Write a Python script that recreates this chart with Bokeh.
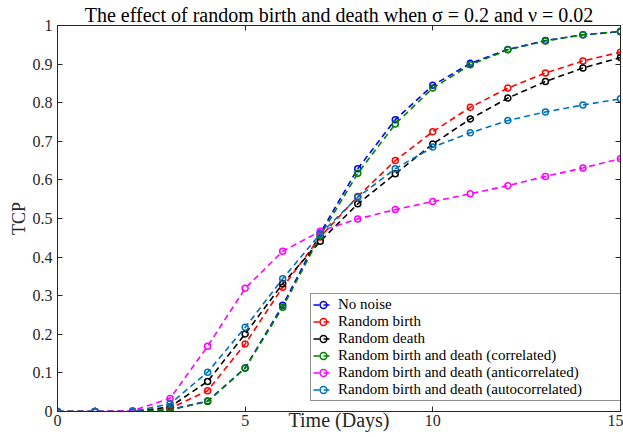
from bokeh.plotting import figure
from bokeh.models import Range1d, LinearAxis, FixedTicker, Legend, LegendItem
from bokeh.embed import file_html
from bokeh.resources import INLINE

days = list(range(16))
no_noise = [0, 0, 0, 0.005, 0.027, 0.113, 0.275, 0.462, 0.629, 0.756, 0.845, 0.902, 0.938, 0.961, 0.976, 0.984]
random_birth = [0, 0, 0, 0.008, 0.054, 0.175, 0.322, 0.452, 0.557, 0.650, 0.725, 0.788, 0.838, 0.877, 0.908, 0.931]
random_death = [0, 0, 0, 0.012, 0.078, 0.201, 0.331, 0.441, 0.538, 0.616, 0.693, 0.758, 0.812, 0.855, 0.890, 0.917]
correlated = [0, 0, 0, 0.004, 0.026, 0.112, 0.270, 0.455, 0.617, 0.745, 0.838, 0.898, 0.937, 0.960, 0.976, 0.985]
anticorrelated = [0, 0, 0.002, 0.034, 0.169, 0.319, 0.415, 0.467, 0.499, 0.523, 0.544, 0.564, 0.585, 0.609, 0.631, 0.655]
autocorrelated = [0, 0, 0, 0.020, 0.102, 0.218, 0.344, 0.460, 0.555, 0.629, 0.685, 0.722, 0.754, 0.776, 0.794, 0.810]

series_names = ["No noise", "Random birth", "Random death",
                "Random birth and death (correlated)",
                "Random birth and death (anticorrelated)",
                "Random birth and death (autocorrelated)"]
series_values = [no_noise, random_birth, random_death, correlated, anticorrelated, autocorrelated]
series_colors = ["#0000FF", "#FF0000", "#000000", "#008000", "#FF00FF", "#0072BD"]

x_ticks = [0, 5, 10, 15]
y_ticks = [0, 0.1, 0.2, 0.3, 0.4, 0.5, 0.6, 0.7, 0.8, 0.9, 1]

FONT = "Liberation Serif"
AX = "#262626"

p = figure(width=623, height=437, output_backend="svg", toolbar_location=None,
           x_range=Range1d(0, 15), y_range=Range1d(0, 1),
           min_border_left=57, min_border_right=3, min_border_top=25, min_border_bottom=26)
p.title.text = "The effect of random birth and death when σ = 0.2 and ν = 0.02"
p.title.text_font = FONT
p.title.text_font_size = "20px"
p.title.text_font_style = "normal"
p.title.text_color = "#000000"
p.title.align = "center"
p.title.standoff = 0
p.title.offset = 0

p.xgrid.visible = False
p.ygrid.visible = False
p.outline_line_color = AX
p.outline_line_width = 1

def style_axis(ax, labels=True):
    ax.major_tick_in = 5
    ax.major_tick_out = 0
    ax.minor_tick_line_color = None
    ax.axis_line_color = AX
    ax.major_tick_line_color = AX
    ax.major_label_text_font = FONT
    ax.major_label_text_font_size = "16px"
    ax.major_label_text_color = AX
    ax.axis_label_text_font = FONT
    ax.axis_label_text_font_size = "20px"
    ax.axis_label_text_font_style = "normal"
    ax.axis_label_text_color = AX
    if not labels:
        ax.major_label_text_font_size = "0px"
        ax.major_label_text_color = None
        ax.major_label_standoff = 0

p.xaxis.ticker = FixedTicker(ticks=x_ticks)
p.yaxis.ticker = FixedTicker(ticks=y_ticks)
p.yaxis.major_label_overrides = {t: ("0" if t == 0 else ("1" if t == 1 else f"{t:.1f}")) for t in y_ticks}
style_axis(p.xaxis[0])
style_axis(p.yaxis[0])
p.xaxis.major_label_standoff = 3
p.yaxis.major_label_standoff = 5
p.xaxis.axis_label = "Time (Days)"
p.xaxis.axis_label_standoff = -20
p.yaxis.axis_label = "TCP"
p.yaxis.axis_label_text_font_size = "18px"
p.yaxis.axis_label_standoff = 1

top_ax = LinearAxis(ticker=FixedTicker(ticks=x_ticks))
right_ax = LinearAxis(ticker=FixedTicker(ticks=y_ticks))
style_axis(top_ax, labels=False)
style_axis(right_ax, labels=False)
p.add_layout(top_ax, "above")
p.add_layout(right_ax, "right")

items = []
for name, vals, col in zip(series_names, series_values, series_colors):
    r1 = p.line(days, vals, line_color=col, line_width=1.6, line_dash="6 4")
    r2 = p.scatter(days, vals, marker="circle", size=6, fill_color=None, line_color=col, line_width=1.5)
    items.append(LegendItem(label=name, renderers=[r1, r2]))

legend = Legend(items=items, location=(253, 10))
legend.label_text_font = FONT
legend.label_text_font_size = "15px"
legend.label_text_color = "#000000"
legend.glyph_width = 20
legend.glyph_height = 17
legend.label_height = 17
legend.label_width = 280
legend.spacing = 0
legend.padding = 2
legend.margin = 0
legend.label_standoff = 5
legend.border_line_color = AX
legend.border_line_width = 1
legend.background_fill_alpha = 1
p.add_layout(legend, "center")

open("out.html", "w").write(file_html(p, INLINE))
